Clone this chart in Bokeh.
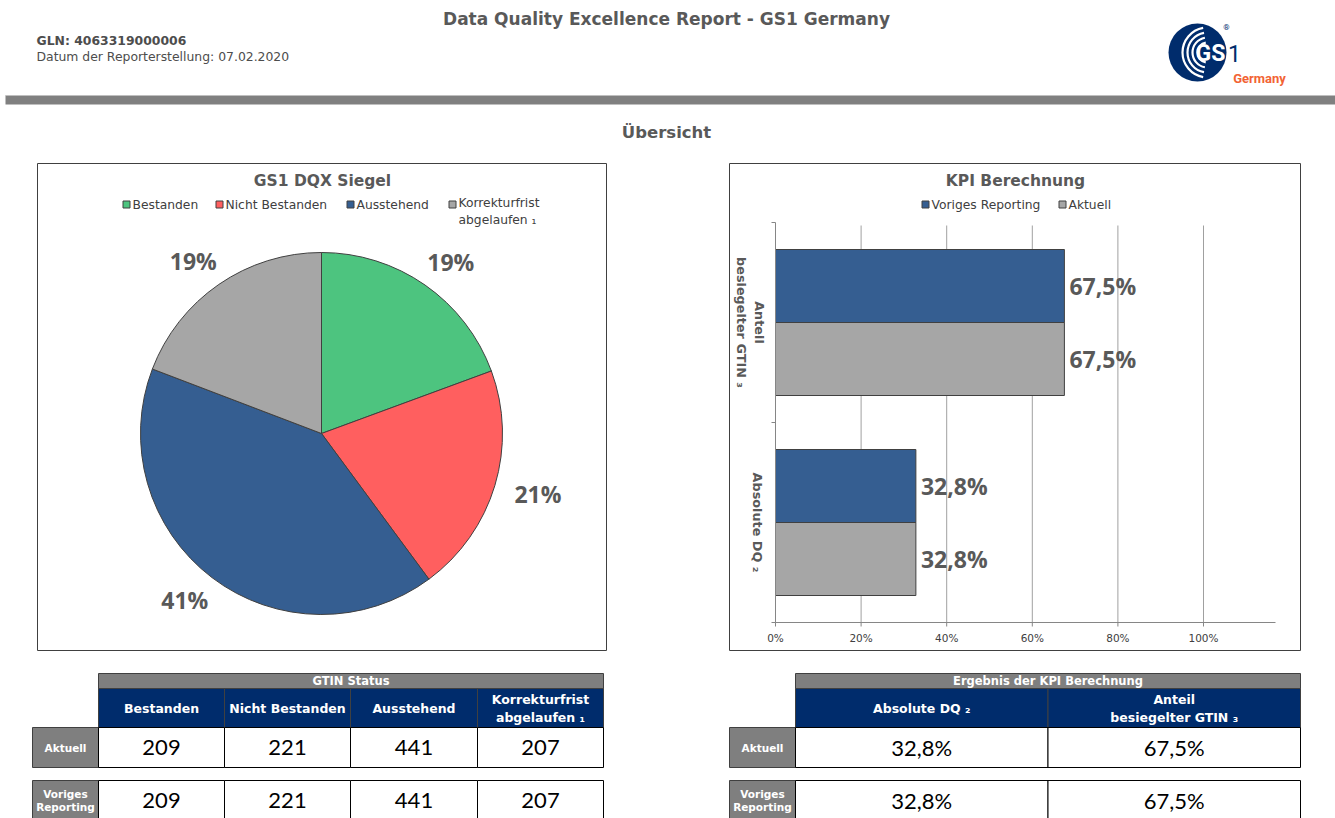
import numpy as np
from bokeh.plotting import figure
from bokeh.models import Range1d, ColumnDataSource
from bokeh.core.properties import value
from bokeh.embed import file_html
from bokeh.resources import INLINE

# ---------------- data ----------------
report_title = "Data Quality Excellence Report - GS1 Germany"
gln_text = "GLN: 4063319000006"
date_text = "Datum der Reporterstellung: 07.02.2020"
section_title = "Übersicht"

pie_title = "GS1 DQX Siegel"
status_labels = ["Bestanden", "Nicht Bestanden", "Ausstehend", "Korrekturfrist\nabgelaufen ₁"]
status_colors = ["#4DC47F", "#FF5F5F", "#355E91", "#A6A6A6"]
status_aktuell = [209, 221, 441, 207]
status_voriges = [209, 221, 441, 207]

kpi_title = "KPI Berechnung"
kpi_labels = ["Absolute DQ ₂", "Anteil\nbesiegelter GTIN ₃"]
kpi_series = ["Voriges Reporting", "Aktuell"]
kpi_colors = ["#355E91", "#A6A6A6"]
kpi_voriges = [0.328, 0.675]
kpi_aktuell = [0.328, 0.675]
kpi_ticks = [0.0, 0.2, 0.4, 0.6, 0.8, 1.0]
kpi_tick_labels = ["0%", "20%", "40%", "60%", "80%", "100%"]

table1_title = "GTIN Status"
table2_title = "Ergebnis der KPI Berechnung"
row_labels = ["Aktuell", "Voriges\nReporting"]

# ---------------- page / styles ----------------
W, H = 1335, 818
VER = "DejaVu Sans"
CAL = "Lato"
CALB = "Open Sans"
GREY_TXT = "#595959"
NAVY = "#002C6C"
HDR_GREY = "#7F7F7F"


def Y(py):
    return H - np.asarray(py, dtype=float)


p = figure(width=W, height=H, x_range=Range1d(0, W), y_range=Range1d(0, H),
           output_backend="svg", toolbar_location=None, min_border=0,
           x_axis_type=None, y_axis_type=None, outline_line_color=None,
           background_fill_color="white", border_fill_color="white")
p.grid.visible = False


def txt(x, y, s, size, color=GREY_TXT, font=VER, bold=False, align="center",
        baseline="middle", angle=0.0, lh=1.15, **kw):
    xs = list(np.atleast_1d(x))
    ys = list(Y(np.atleast_1d(y)))
    ss = [s] if isinstance(s, str) else list(s)
    if len(xs) == 1 and len(ss) > 1:
        xs = xs * len(ss)
    if len(ys) == 1 and len(ss) > 1:
        ys = ys * len(ss)
    p.text(x=xs, y=ys, text=ss, text_font=value(font), text_font_size=f"{size}px",
           text_font_style="bold" if bold else "normal", text_color=color,
           text_align=align, text_baseline=baseline, angle=angle,
           text_line_height=lh, **kw)


def box(l, r, t, b, fill=None, line="#404040", lw=1.0):
    p.quad(left=l, right=r, top=list(Y(np.atleast_1d(t))), bottom=list(Y(np.atleast_1d(b))),
           fill_color=fill, fill_alpha=1.0 if fill else 0.0, line_color=line, line_width=lw)


# ---------------- header ----------------
txt(666, 18, report_title, 17, bold=True)
txt(36, 40, gln_text, 12.4, color="#4D4D4D", bold=True, align="left")
txt(36, 56, date_text, 12.4, color="#4D4D4D", align="left")

# logo
p.circle(x=[1197], y=list(Y([52])), radius=29, fill_color=NAVY, line_color=None)
p.arc(x=[1207] * 4, y=list(Y([52] * 4)), radius=[10, 15, 20, 25],
      start_angle=np.deg2rad(100), end_angle=np.deg2rad(260), line_color="white", line_width=2.2)
txt(1210, 53, "GS", 23, color="white", font="Roboto", bold=True)
txt(1234, 53, "1", 23, color=NAVY, font="Roboto")
txt(1226, 27, "®", 8, color=NAVY, font="Roboto")
txt(1259, 78, "Germany", 13, color="#F26334", font="Roboto", bold=True)

box(5, W, 95, 104, fill="#808080", line=None)
p.segment(x0=[5], x1=[W], y0=list(Y([95])), y1=list(Y([95])), line_color="#BFBFBF", line_width=1)

txt(666, 132, section_title, 16.5, bold=True)

# ---------------- pie chart ----------------
box(37, 606, 163, 650, fill="white", line="#404040", lw=1)
txt(322, 180, pie_title, 15.5, bold=True)

leg_sq_x = [126, 219, 350, 452]
for xx, lab, col in zip(leg_sq_x, status_labels, status_colors):
    p.rect(x=[xx], y=list(Y([204])), width=7, height=7, fill_color=col, line_color="#404040", line_width=1)
    txt(xx + 6, 204 if "\n" not in lab else 211, lab, 12.3, color="#404040", align="left", baseline="middle", lh=1.2)

vals = np.array(status_aktuell, dtype=float)
frac = vals / vals.sum()
cum = np.concatenate([[0.0], np.cumsum(frac)])
start = np.pi / 2 - 2 * np.pi * cum[:-1]
end = np.pi / 2 - 2 * np.pi * cum[1:]
PCX, PCY, PR = 321, 433, 181
pie_src = ColumnDataSource(dict(start=start, end=end, color=status_colors))
p.wedge(x=PCX, y=float(Y(PCY)), radius=PR, start_angle="start", end_angle="end",
        direction="clock", fill_color="color", line_color="#404040", line_width=1, source=pie_src)
mid = (start + end) / 2
lx = PCX + 226 * np.cos(mid)
ly = PCY - 209 * np.sin(mid)
txt(lx, ly, [f"{round(f * 100):.0f}%" for f in frac], 23, font=CALB, bold=True)

# ---------------- KPI bar chart ----------------
box(729, 1300, 163, 650, fill="white", line="#404040", lw=1)
txt(1015, 180, kpi_title, 15.5, bold=True)
for xx, lab, col in zip([925, 1062], kpi_series, kpi_colors):
    p.rect(x=[xx], y=list(Y([204])), width=7, height=7, fill_color=col, line_color="#404040", line_width=1)
    txt(xx + 6, 204, lab, 12.3, color="#404040", align="left")

K0, KW = 775, 428           # pixel of 0 % and width of 100 %
KT, KB, KR = 222, 622, 1275  # plot area top / bottom / right
p.extra_x_ranges = {"kpi": Range1d(-K0 / KW, (W - K0) / KW)}

p.segment(x0=kpi_ticks, x1=kpi_ticks, y0=float(Y(KT + 3)), y1=float(Y(KB)),
          x_range_name="kpi", line_color="#A0A0A0", line_width=1)

n_cat = len(kpi_labels)
band = (KB - KT) / n_cat
cat_center = np.array([KB - band * (i + 0.5) for i in range(n_cat)])
bar_h = 73
for k, (vals_k, col) in enumerate(zip([kpi_voriges, kpi_aktuell], kpi_colors)):
    yc = cat_center + (k - 0.5) * bar_h
    src = ColumnDataSource(dict(y=list(Y(yc)), right=vals_k))
    p.hbar(y="y", left=0, right="right", height=bar_h, source=src, x_range_name="kpi",
           fill_color=col, line_color="#404040", line_width=1)
    p.text(x=vals_k, y=list(Y(yc)), text=[f"{v * 100:.1f}%".replace(".", ",") for v in vals_k],
           x_range_name="kpi", x_offset=5, text_align="left", text_baseline="middle",
           text_font=value(CALB), text_font_size="23px", text_font_style="bold", text_color=GREY_TXT)

# axes
p.segment(x0=[K0], x1=[KR], y0=list(Y([KB])), y1=list(Y([KB])), line_color="#868686", line_width=1)
p.segment(x0=[K0], x1=[K0], y0=list(Y([KT])), y1=list(Y([KB])), line_color="#868686", line_width=1)
p.segment(x0=kpi_ticks, x1=kpi_ticks, y0=float(Y(KB)), y1=float(Y(KB + 4)),
          x_range_name="kpi", line_color="#868686", line_width=1)
yt = [KT + band * i for i in range(n_cat + 1)]
p.segment(x0=[K0 - 4] * len(yt), x1=[K0] * len(yt), y0=list(Y(yt)), y1=list(Y(yt)),
          line_color="#868686", line_width=1)
p.text(x=kpi_ticks, y=[float(Y(637))] * len(kpi_ticks), text=kpi_tick_labels, x_range_name="kpi",
       text_align="center", text_baseline="middle", text_font=value(VER), text_font_size="10.5px",
       text_color="#404040")
lab_x = [757 if "\n" not in s else 750 for s in kpi_labels]
txt(lab_x, cat_center, kpi_labels, 12.8, bold=True, angle=-np.pi / 2, lh=1.2)

# ---------------- tables ----------------
RT = [727, 780]   # row tops
RH = 40


def table(xl, cols, head_title, headers, rows_vals, fmt, val_size):
    x_edges = cols
    box(x_edges[0], x_edges[-1], 673, 688, fill=HDR_GREY, line="#404040")
    txt((x_edges[0] + x_edges[-1]) / 2, 680.5, head_title, 11.5, color="white", bold=True)
    lefts = x_edges[:-1]
    rights = x_edges[1:]
    box(lefts, rights, [688] * len(lefts), [727] * len(lefts), fill=NAVY, line="#404040")
    cx = [(a + b) / 2 for a, b in zip(lefts, rights)]
    txt(cx, [708] * len(cx), headers, 12.5, color="white", bold=True, lh=1.2)
    for rt, rl, rv in zip(RT, row_labels, rows_vals):
        box([xl], [x_edges[0]], [rt], [rt + RH], fill=HDR_GREY, line="#404040")
        txt((xl + x_edges[0]) / 2, rt + RH / 2, rl, 10.5, color="white", bold=True, lh=1.15)
        box(lefts, rights, [rt] * len(lefts), [rt + RH] * len(lefts), fill="white", line="#000000")
        txt(cx, [rt + RH / 2] * len(cx), [fmt(v) for v in rv], val_size, color="black", font=CAL)


table(32, [98, 224, 350, 477, 603], table1_title, status_labels,
      [status_aktuell, status_voriges], lambda v: f"{v}", 22)
table(729, [795, 1047.5, 1300], table2_title, kpi_labels,
      [[kpi_aktuell[0], kpi_aktuell[1]], [kpi_voriges[0], kpi_voriges[1]]],
      lambda v: f"{v * 100:.1f}%".replace(".", ","), 22)

open("out.html", "w").write(file_html(p, INLINE))
